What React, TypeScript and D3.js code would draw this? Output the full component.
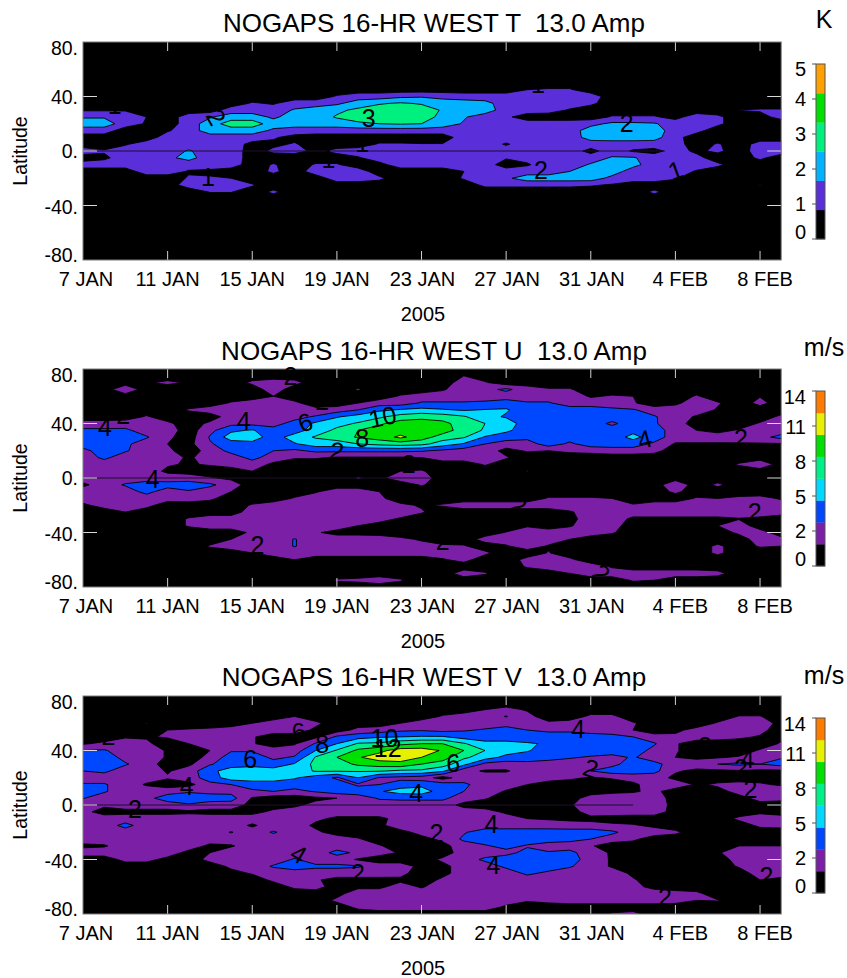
import React from "react";
import * as d3 from "d3";

// ---------- axis text ----------
const DATE_LABELS = ["7 JAN", "11 JAN", "15 JAN", "19 JAN", "23 JAN", "27 JAN", "31 JAN", "4 FEB", "8 FEB"];
const DATE_TICK_DAYS = [0, 4, 8, 12, 16, 20, 24, 28, 32];
const DATE_LABEL_SHIFT = [3, 0, 0, 0, 1, 1, 1, 5, 5];
const LAT_TICKS = [80, 40, 0, -40, -80];
const LAT_LABELS = ["80.", "40.", "0.", "-40.", "-80."];
const LAT_LABEL_OFFSETS = [6, 55, 109, 165, 213];

// ---------- colour bars ----------
const T_COLORS = ["#000000", "#5a2ed8", "#00b2ff", "#00f080", "#00e000", "#ffa000"];
const WIND_COLORS = ["#000000", "#7a1fa6", "#0048ff", "#00d8ff", "#00f088", "#00e000", "#e6f000", "#ff7a00"];
const T_BAR_LABELS = ["5", "4", "3", "2", "1", "0"];
const WIND_BAR_LABELS = ["14", "11", "8", "5", "2", "0"];
const T_BAR_LABEL_OFFSETS = [5, 35, 70, 105, 140, 168];
const WIND_BAR_LABEL_OFFSETS = [6, 36, 71, 106, 140, 168];

// ---------- amplitude grids: [latitude, first day, colour-band value per day...] ----------
const T_ROWS: number[][] = [
  [45,21,.5,.6,.6],
  [40,12,.6,1,1,1.3,1.4,1.2,1,1,1,1,1,1,1],
  [35,8,.6,.4,1,1,1.3,2,2.4,2.6,2.4,2,2,1.8,1,1,1,1,.7],
  [30,0,.4,.4,.4],[30,7,1,1,1,1.6,2,2.3,2.7,3,3,3,2.4,2,2,1,1,.9,.4],[30,31,.52,.6,.6],
  [25,0,1.4,1.4,1.2,.5],[25,5,1,1.4,2,2,1.3,2,2,2.6,3,3,3,3,2.2,1.6,1,.7],[25,25,.6,.6,.6,.2,1,.7],[25,32,.2,.8],
  [20,0,2,2,1,.4],[20,5,1,2,3,3,2,2,2,2,2.3,2.5,2.6,2.5,2,1.4,1,1,1,1,1,1.2,1.7,1.7,1.6,1,1,.7],
  [15,0,1,1],[15,4,.4,1,2,2,2,1.3,1,1,1,1,1,1,1,1,1,1,1,1,1,1,2,2,2,2,1,.8],
  [10,4,1,1,1,1,1,.6,.2],[10,18,1,1,1,1,1,1,1.9,2,2,1.9,.8],
  [5,2,.4,1,1,1,1,1,.2],[5,9,.3,.6],[5,14,.6,.6,.55,.55,1,1,.4,1,1,1,1,1,1,1,.9],[5,30,.6],[5,32,.9,.9],
  [0,0,1,.6,1,1,1,1.6,1,1,.1,.7,.8,.3,.8,1,1,1,1,1,1,1,1,1,1,1,.2,1,.4,.2,.9,.3,.7,0,1,1],
  [-5,1,.3,1,1,1.3,1.8,1,1,.1],[-5,13,.4,1,1,1,1,1,1,.6,.8,1,1,1,1.6,1.6,1,1,.8],[-5,32,.7],
  [-10,0,1,1,1,1,1,1,1,1],[-10,9,.6],[-10,11,.6,.6],[-10,14,.2,1,1,1,1,1,0,.4,1,1,1.6,2,1.8,1,1,1,.7],
  [-15,3,1,1,.4,.3],[-15,9,.7],[-15,11,1,1,1],[-15,18,.5,1,1,1,1,1.5,2,2,1,1,1,.4],
  [-20,5,.6,.6,.5],[-20,12,1,1,.7],[-20,18,.6,1,1.3,2,2,2,2,1.2,1,1,.6],
  [-25,4,.1,.9,.9,.9,.6],[-25,19,.7,.7,.7,.7,.7,.6,.4],[-25,32,.55],
  [-30,6,.55,.55],[-30,9,.7],[-30,27,.7],
];

const U_ROWS: number[][] = [
  [75,18,.5],
  [70,3,.4,.7,.4],[70,8,.7,1,.8],[70,18,1,.6],
  [65,2,1.3],[65,9,1],[65,13,.6],[65,17,.4,1,1.2,1.7,1,.6,.6],
  [60,9,.5],[60,15,.6,1,1,1,1,1,1,1,1,.4,.6,.5],[60,29,.6],[60,32,.45],
  [55,7,.6,1,1,.7],[55,13,.5,1,1,1.6,1.6,1.6,1.7,2,1.6,1.6,1,1,1,.6],[55,28,.3,1,.6],[55,32,.8],
  [50,5,.6,1,1,1,1,1,.8,1,1.5,2.3,2.6,2.8,2.6,2.4,2.55,2.6,2,2,2,2,1.7,1.6,1,1,1,.4],
  [45,3,.6],[45,7,1,1,1,1.2,1.6,2.4,2.9,3.3,3.9,4.2,4,3.6,2.8,2.4,2,2,2,2,2,2,1.6,.9,.4],[45,33,.7],
  [40,0,.9,.9,1,1,.7],[40,6,.7,1.2,1.2,1.2,1.8,2.7,3.2,3.6,4.3,5,5,4.8,4,3.5,3,2,2,2,2,1.3,2,1.6,1],[40,32,.6,1],
  [35,0,1.7,1.7,1.7,1,1,0,1.2,2.3,2.6,1.8,2,3,3.7,4.5,5,5,5,5,4,3.4,2.7,2,2,2,2,2,2.2,2,1,.5,.2,.6,1,1],
  [30,0,2,2,2,1.6,.7,0,1.6,3,3,2,3,3.6,4,4.6,5,5.7,5,4,3.6,2.4,2,1.8,2,2,2,2,2.8,2,1,1,1,1,1.2,1.8],
  [25,0,2,2,1.7,1,.5,.2,1.4,2,2.2,2,2.4,3,3,3.5,3.8,4,3.8,3,2.4,1.5,1,1,2,1.3,2,2,2,1.3,.4,.4,.4,.4,.4,.4],
  [20,0,1.2,2,1.6,1,.7,0,.9,1.8,2,1.5,1.3,1.7,1.7,1.7,1.7,1.7,1.6,1.3,1,1,.2,.6,.5,.7,.8,1,1,.8],
  [15,0,1,1.7,1,1,.8,.4,.8,1,1.8,1,.6,.6,.4,.4,.4,.4,.5,1,1,1,.6],
  [10,0,1,1,1,1,.6,.4,.6,.9,1,.3],[10,19,.6],[10,31,.6,1.3],
  [5,0,1,1,1,1,.3,.1],[5,8,.5],[5,15,.5,.6],[5,21,.55],
  [0,0,1,1,1,1,1,1,.6,.3],[0,13,.6,.3,1,1],
  [-5,0,.3,1,1.6,2,1.9,2,1.7,1],[-5,16,.6],[-5,28,1.3],[-5,30,.7],
  [-10,0,1,1,1,1.8,1,1.4,1,.5],[-10,11,.4,1,1,.5],[-10,28,.7],
  [-15,0,1,1,1,1,.9,1,.7],[-15,10,.6,1,1,1,.7],[-15,22,.6,.6,.6,.5],[-15,29,.6,.5,.7,.8,.4],
  [-20,0,.3,.9,1,.8],[-20,8,.6,1,.7,1,1,1,.8,.7,.4,.6,1,1,1,1,1,1,1,1,.6,1,1,1,1,1,1,.9],
  [-25,2,.5],[-25,8,1,1,1,1,1,1,1,1,.6],[-25,23,.4,.9,1,1,1,1,1,1,1,1,.9],
  [-30,5,.6,1,1,1,1,1,1,1,1,.8,.4],[-30,23,.2,1,1,.3,.3,.3,.3,.3,.45,.3],
  [-35,5,.6,1,1,1,1,1,1,1,.5,.2],[-35,21,.4],[-35,23,.4,1,.9],[-35,30,.5,1],
  [-40,8,.7,1,1,.6,.2,.2,.2],[-40,20,.55,1,1,1,1,.6],[-40,31,.7,.9],
  [-45,7,.5,1,1,1.55,1,1,1,.9,.7,.4,.2],[-45,19,.9,1,1,1,.5],[-45,32,1,.8],
  [-50,6,.6,1,1,1,1.55,1,1,1,1,1,.8,.6,.6],[-50,20,.4,1,.4],[-50,30,.7],[-50,32,.6,.5],
  [-55,8,.5,1,1,1,1,1,1,1,1,1,1,.7],[-55,22,.55],[-55,30,.7],
  [-60,10,.5],[-60,17,.4,.8],[-60,21,.8,1,.7],
  [-65,21,.6,1,1,1,.4],
  [-70,18,1,.6],[-70,23,.5,1,1,1,1,1,1,.8],
  [-75,12,.6,.7,1,.6],[-75,26,.6,.5],
];

const V_ROWS: number[][] = [
  [80,12,.7],
  [70,19,.5,.8,.4],
  [65,10,.5],[65,17,.6,1,1,1.55,.8],[65,24,.7,.7],[65,31,.55,.55],
  [60,3,.55],[60,8,.5,1,1,.7],[60,15,.5,1,1,1,1,1,.7,.7,.9,1,1,.6],[60,30,.6,1,1,.2],
  [55,4,.5,.6,.7,1,1,1,1,.3],[55,13,.8,1,1.3,1.4,1.2,1.4,1.6,2,1.5,1.3,1.3,1,1,.5],[55,28,.3,.8,.7,1,.8],
  [50,2,.4,.4],[50,4,.6,1,.8,1,.6],[50,11,.3,1.7,2.1,2.4,2.5,2.6,2.6,2.1,2,2,2,2,2,2,1.8,1.5,.9,.7,1,.9,.7,.4,.3],
  [45,0,.4,.7,1,.7],[45,5,.5,.5,1,.6],[45,10,.4,1.6,2.5,3.6,3.7,4.2,4.5,4.5,3.6,2.8,2.8,2.6,2.4,2,2,2,2,1.6,.6],[45,33,.6],
  [40,0,1.5,1.6,1,1,.4],[40,6,.5,1.4,1.4,1,1,2.5,3.6,4.7,5.2,6,6,5.4,4.5,3.5,3,2.6,2,2,2,2,2,1.2,.6],[40,32,.6,1],
  [35,0,2,2,1.2,1,.4],[35,6,.8,2,2,1.3,1.6,3.6,4.5,5.4,6,6,5.5,5,3.7,3,2.2,2,1.9,1.6,1.4,1.2,1.6,1,.5,.3,.4,.6,1,1.4],
  [30,0,2,2,1.6,1,0,.3,1.4,2,2.2,1.9,2.6,3.8,4,4.7,5,5.2,4.5,4,2.8,1.2,1,1.2,1,1,1.2,1.2,2,1.8,1,1,1.5,1.7,1.5,1.9],
  [25,0,1.5,1.7,1,1,.4,1,2.2,3,3,3,3,3.6,3.6,3.6,3.6,3.3,3.3,2.7,.8,.4,.4,1,1,1,1.5,2,2,1.8,.6,.3,.3,.4,.3,.3],
  [20,0,1,1,1,.9,.6,1,2,3,3,3,2.6,2,1.35,2.5,1.4,1.2,1,.1,1,1,1,1,1,.7,.4,.6,.9,.9,.3,.2,.2,.2,.2,.2],
  [15,0,1.6,1.6,1,.4,0,.2,1.2,1.5,2,2,2,2,2,1.35,1.5,2,2.2,2,1.7,1,1,.5,0,0,0,0,.3,1,1,.4,.6,.7,.6,.4],
  [10,0,2,1.6,1,1,1.1,1.4,1.2,1.2,1.3,1.5,1.2,1.6,2,2,2.4,2.9,3,2,1.5,1,.4,0,0,0,0,.3,.4,.7,.1,0,.3,.7,1,1],
  [5,0,1.55,1,1,1.2,2,2,2,1.9,.4,0,0,.3,.5,1,1.6,1.7,1.7,1.7,1,.6],[5,24,1,1,1,1,.1],[5,31,.3,.7,.7],
  [0,0,1,.7,1,1,1,1.4,1,1,.2,.1,.3,.8,1,1,1,1,1,1,.2],[0,23,.4,1,1,1,1,.2],[0,32,.3,.2],
  [-5,0,.8,.1,.2,.2,.2,.3,.2,.2,.2,.7,1,1,1,1,1,1,1,1,1,.9,.3],[-5,24,1,1,1,1,.1],[-5,32,.3],
  [-10,0,1,1,1,1,1,1,1,1,1,1,1,.7,.3,.3,.3,.8,1,1,1,1,1,.5,.4,.3,.2,.1],[-10,31,.7,1,1],
  [-15,0,1,1,1.8,1,1,1,1,1,.35,1,1,.3,0,0,.3,1,1,1,1,1,1,1,1,.9,.9,.7,.6,.3],[-15,32,.7,.8],
  [-20,0,1,1,1,1,1,1,1,1.55,1,1.6,1,.7,.1,0,.2,.2,.8,1,1.4,2,2,2,2,2,2,1.7,1,1,.7],
  [-25,0,1,1,1,1,1,1,1,1,1,1,1,1,1,.6,0,0,.2,.7,1.7,2,2,2,2,1.8,1.5,1,.7],
  [-30,0,.3,.4,1,1,1,1,.3,.4,1,1,1,1,1,1,.6,0,0,.2,1,1.4,1.8,1.4,1,1,.6],[-30,31,.5,.5,.5],
  [-35,0,1,1,1,1,1,.2,.5,1,1,1,1,1,1.8,1.3,.9,.4,0,0,1,1,1.2,1.8,1.6,1.8,.9,.4],[-35,30,.4,1,1,1],
  [-40,2,.8,.8,.2,0,.8,1,1,1,1.6,1,1,.4,0,0,0,.7,1,1.7,2,2,2,2,1,.4],[-40,31,.9,1,1],
  [-45,7,.7,1,1.6,2,1.7,1.7,1.6,1,1,.2,.2,1,1,1.7,2,2,1.6,1,.4],[-45,31,.6,1,1],
  [-50,7,.2,.6,1,1,1,1,1,1,.8,0,.2,1,1,1,1.7,1.3,1,1,1,.3],[-50,32,1,1],
  [-55,9,.7,1,.6,.2,.2,.2,.3,0,.7,1,1,1,1,1,1,1,1,.6],[-55,32,.5,.2],
  [-60,10,.7,.9,0,.3,.3,.9,.4,1,1,1,1,1,1,1,1,1,.8,.2],
  [-65,12,.2,1,1,1,1,1,1,1,1,1,1,1,1,1,1,1,.9,.7],
  [-70,12,.7,1,1,1,1,1,1,1,1,.6,.8,1,1,1,1,1,.9,.5,.55],
  [-75,13,.7,1,1,1,1,1,1,.3],
  [-80,21,.55],[-80,25,.6,.8],
];

// ---------- contour labels: [text, day, latitude, rotation] ----------
type Lab = [string, number, number, number];
const T_LABELS: Lab[] = [
  ["2",6.3,25,60],["3",13.5,24,0],["2",25.7,20.5,0],["2",21.65,-14,0],["1",28,-14,-20],
  ["1",1.5,34,0],["1",5.9,-19,0],["1",11.6,-6,0],["1",13.2,6,0],["1",21.5,49.5,0],
];
const U_LABELS: Lab[] = [
  ["4",1.04,37.4,0],["2",1.9,46,0],["4",7.6,42,0],["6",10.5,41,-20],["10",14.15,45,-12],["8",13.2,29,0],
  ["2",12,20,10],["4",3.3,-.7,0],["2",8.25,-49,0],["2",9.8,75,0],["2",11.3,56.5,0],["2",15.4,10,0],
  ["2",17,-46,0],["4",26.55,28.6,-15],["2",31.1,29,0],["2",31.75,-25,0],["2",24.5,-70,40],["2",20.6,-20,30],
];
const V_LABELS: Lab[] = [
  ["2",1.2,50.6,0],["2",2.45,-3,0],["4",4.9,14,0],["6",7.9,34,0],["8",11.3,45,0],["6",10.2,54,-10],
  ["10",14.25,49,0],["12",14.4,42,0],["4",10.2,-36,30],["2",13,-50,0],["6",17.5,31,0],["4",23.4,56,0],
  ["2",24,27,20],["4",15.75,9,0],["2",16.7,-20.5,0],["4",19.3,-14,0],["4",19.4,-44,0],["2",27.5,-67.5,0],
  ["4",31.4,34,0],["2",31.1,27,0],["2",31.55,12,0],["2",32.3,-52,0],["2",29.4,43,0],
];

const N_DAYS = 34;
const N_LATS = 33;
const FONT = "'Liberation Sans', Arial, sans-serif";

function buildGrid(rows: number[][]) {
  const g = new Array(N_DAYS * N_LATS).fill(0);
  rows.forEach(([lat, start, ...vals]) => {
    const j = (80 - lat) / 5;
    vals.forEach((v, k) => { if (start + k < N_DAYS) g[j * N_DAYS + start + k] = v; });
  });
  return g;
}

type PanelProps = {
  id: string; title: string; unit: string; top: number; titleY: number; unitY: number; rows: number[][]; colors: string[];
  labels: Lab[]; eqEnd: number; barTop: number; barLeft: number; barLabels: string[]; barOffsets: number[];
};

const LEFT = 83, RIGHT = 781.2, H = 218;

function Panel(p: PanelProps) {
  const sx = d3.scaleLinear().domain([0, 33]).range([LEFT, RIGHT]);
  const sy = d3.scaleLinear().domain([80, -80]).range([p.top, p.top + H]);
  const thresholds = d3.range(1, p.colors.length).map((k) => k - 0.5);
  const contours = d3.contours().size([N_DAYS, N_LATS]).thresholds(thresholds)(buildGrid(p.rows));
  const path = d3.geoPath(d3.geoTransform({
    point(x: number, y: number) { (this as any).stream.point(sx(x - 0.5), sy(80 - 5 * (y - 0.5))); },
  }));
  const barH = 175;
  const seg = barH / p.colors.length;
  return (
    <g fontFamily={FONT} fill="#000">
      <text x={434} y={p.titleY} fontSize={26} textAnchor="middle" dominantBaseline="central" style={{ whiteSpace: "pre" }}>{p.title}</text>
      <text x={824} y={p.unitY} fontSize={25} textAnchor="middle" dominantBaseline="central">{p.unit}</text>
      <clipPath id={p.id}><rect x={LEFT} y={p.top} width={RIGHT - LEFT} height={H} /></clipPath>
      <rect x={LEFT} y={p.top} width={RIGHT - LEFT} height={H} fill="#000" />
      <g clipPath={`url(#${p.id})`}>
        {contours.map((c, i) => (
          <path key={i} d={path(c as any) || ""} fill={p.colors[i + 1]} stroke="#000" strokeWidth={0.9} strokeLinejoin="round" />
        ))}
        <line x1={LEFT} x2={sx(p.eqEnd)} y1={sy(0)} y2={sy(0)} stroke="#1a1028" strokeWidth={1} />
      </g>
      {DATE_TICK_DAYS.map((d) => (
        <g key={d} stroke="#d0d0d0" strokeWidth={1}>
          {d > 0 && <line x1={sx(d)} x2={sx(d)} y1={p.top} y2={p.top + 9} />}
          {d > 0 && <line x1={sx(d)} x2={sx(d)} y1={p.top + H} y2={p.top + H - 9} />}
        </g>
      ))}
      {[40, 0, -40].map((l) => (
        <g key={l} stroke="#d8d8d8" strokeWidth={1}>
          <line x1={LEFT} x2={LEFT + 14} y1={sy(l)} y2={sy(l)} />
          <line x1={RIGHT - 14} x2={RIGHT} y1={sy(l)} y2={sy(l)} />
        </g>
      ))}
      <rect x={LEFT} y={p.top} width={RIGHT - LEFT} height={H} fill="none" stroke="#7c7c7c" strokeWidth={1} />
      {p.labels.map(([t, d, l, r], i) => (
        <text key={i} x={sx(d)} y={sy(l)} fontSize={25} textAnchor="middle" dominantBaseline="central"
          transform={r ? `rotate(${r} ${sx(d)} ${sy(l)})` : undefined}>{t}</text>
      ))}
      {LAT_TICKS.map((l, i) => (
        <text key={l} x={78} y={p.top + LAT_LABEL_OFFSETS[i]} fontSize={19.5} textAnchor="end" dominantBaseline="central">{LAT_LABELS[i]}</text>
      ))}
      <text transform={`translate(20 ${p.top + 109}) rotate(-90)`} fontSize={19.5} textAnchor="middle" dominantBaseline="central">Latitude</text>
      {DATE_LABELS.map((t, i) => (
        <text key={t} x={sx(DATE_TICK_DAYS[i]) + DATE_LABEL_SHIFT[i]} y={p.top + H + 19} fontSize={20} textAnchor="middle" dominantBaseline="central">{t}</text>
      ))}
      <text x={423} y={p.top + H + 53.5} fontSize={20} textAnchor="middle" dominantBaseline="central">2005</text>
      {p.colors.map((c, i) => (
        <rect key={i} x={p.barLeft} y={p.barTop + barH - (i + 1) * seg} width={9} height={seg + 0.3} fill={c} />
      ))}
      <rect x={p.barLeft} y={p.barTop} width={9} height={barH} fill="none" stroke="#555" strokeWidth={1} />
      {p.barLabels.map((t, i) => (
        <text key={t} x={806} y={p.barTop + p.barOffsets[i]} fontSize={20} textAnchor="end" dominantBaseline="central">{t}</text>
      ))}
      {[0, 35, 70, 105, 140, 175].map((o) => (
        <line key={o} x1={p.barLeft - 4} x2={p.barLeft} y1={p.barTop + o} y2={p.barTop + o} stroke="#555" strokeWidth={1} />
      ))}
    </g>
  );
}

export default function App() {
  return (
    <svg width={847} height={978} style={{ position: "absolute", left: 0, top: 0, background: "#fff" }}>
      <Panel id="c1" title="NOGAPS 16-HR WEST T  13.0 Amp" unit="K" top={42} titleY={23} unitY={19} rows={T_ROWS} colors={T_COLORS} labels={T_LABELS}
        eqEnd={27.5} barTop={64} barLeft={816} barLabels={T_BAR_LABELS} barOffsets={T_BAR_LABEL_OFFSETS} />
      <Panel id="c2" title="NOGAPS 16-HR WEST U  13.0 Amp" unit="m/s" top={369} titleY={351} unitY={347} rows={U_ROWS} colors={WIND_COLORS} labels={U_LABELS}
        eqEnd={16.5} barTop={391} barLeft={816} barLabels={WIND_BAR_LABELS} barOffsets={WIND_BAR_LABEL_OFFSETS} />
      <Panel id="c3" title="NOGAPS 16-HR WEST V  13.0 Amp" unit="m/s" top={696} titleY={677} unitY={675} rows={V_ROWS} colors={WIND_COLORS} labels={V_LABELS}
        eqEnd={26} barTop={718} barLeft={816} barLabels={WIND_BAR_LABELS} barOffsets={WIND_BAR_LABEL_OFFSETS} />
    </svg>
  );
}
